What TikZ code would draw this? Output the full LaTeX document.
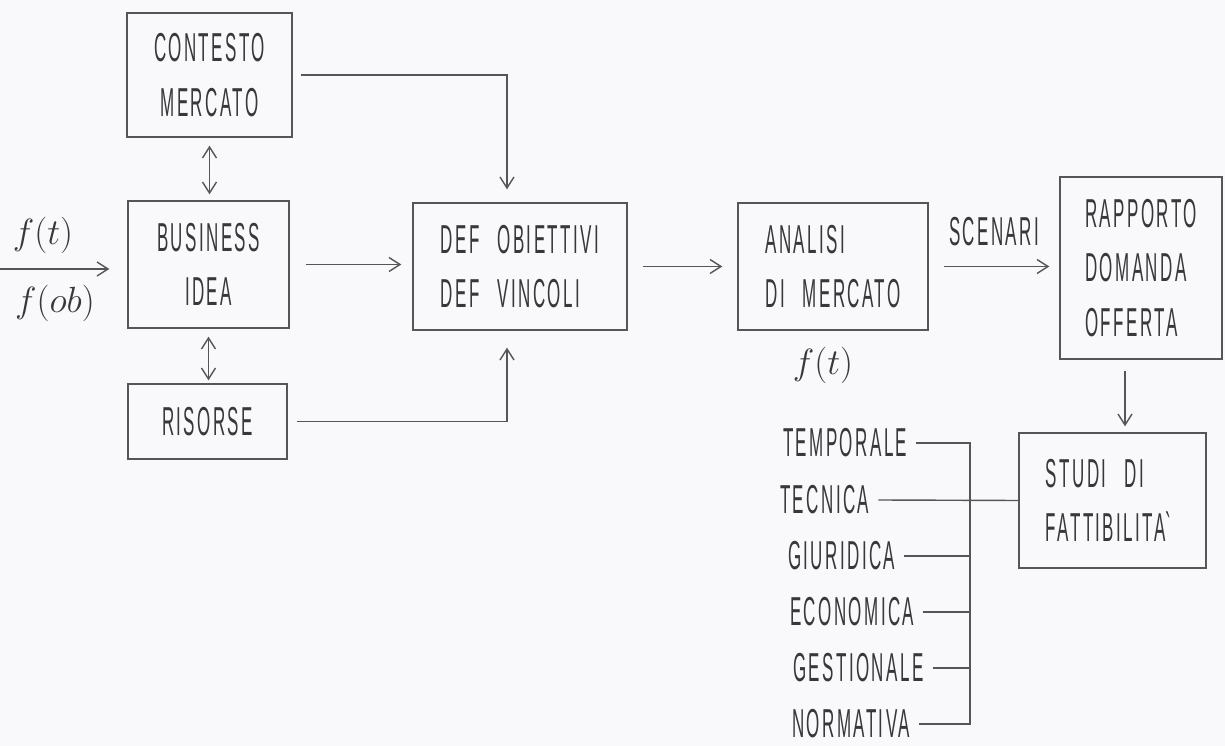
\documentclass[tikz,border=0pt]{standalone}
\usepackage{fontspec}
\setmainfont{Liberation Sans}[FakeStretch=0.42,LetterSpace=6,WordSpace=2.5]
\usetikzlibrary{arrows.meta}
\definecolor{ink}{RGB}{85,85,90}
\definecolor{inktext}{RGB}{55,55,60}
\definecolor{paper}{RGB}{249,249,251}
\begin{document}
\begin{tikzpicture}[x=0.02cm,y=-0.02cm,
	>={Straight Barb[length=0.22cm,width=0.28cm]},
	box/.style={draw=ink,line width=0.8pt,text=inktext,font=\fontsize{23}{31}\selectfont,align=center,inner sep=0pt},
	wire/.style={draw=ink,line width=0.8pt},
	lab/.style={text=inktext,font=\fontsize{23}{28}\selectfont,inner sep=0pt},
	factor/.style={lab,anchor=west,inner sep=5pt},
	fun/.style={text=inktext,font=\fontsize{20}{24}\selectfont,inner sep=0pt}]

		\fill[paper] (0,0) rectangle (1225,746);
		\useasboundingbox (0,0) rectangle (1225,746);

		\node[box,minimum width=3.30cm,minimum height=2.48cm] (contesto) at (209.5,75) {CONTESTO\\MERCATO};
		\node[box,minimum width=3.22cm,minimum height=2.54cm] (business) at (208.5,264.5) {BUSINESS\\IDEA};
		\node[box,minimum width=3.18cm,minimum height=1.50cm] (risorse) at (207.5,421.5) {RISORSE};
		\node[box,align=left,minimum width=4.28cm,minimum height=2.54cm] (obiettivi) at (520,266.5) {DEF OBIETTIVI\\DEF VINCOLI};
		\node[box,align=left,minimum width=3.80cm,minimum height=2.54cm] (analisi) at (833,266.5) {ANALISI\\DI MERCATO};
		\node[box,align=left,minimum width=3.24cm,minimum height=3.64cm] (rapporto) at (1141,268) {RAPPORTO\\DOMANDA\\OFFERTA};
		\node[box,align=left,minimum width=3.74cm,minimum height=2.70cm] (studi) at (1112.5,500.5) {STUDI DI\\FATTIBILITA\textasciigrave};

		\coordinate (in) at (0,269);
		\node[fun] (ft) at (43,235) {$f(t)$};
		\node[fun] (fob) at (55,303) {$f(ob)$};
		\node[fun] (ftm) at (823,365) {$f(t)$};

		\draw[wire,->,shorten >=0.36cm] (in) -- (in -| business.west);
		\draw[wire,<->,shorten <=0.16cm,shorten >=0.12cm] (contesto.south) -- (contesto.south |- business.north);
		\draw[wire,<->,shorten <=0.16cm,shorten >=0.06cm] (business.south) -- (business.south |- risorse.north);
		\draw[wire,->,shorten <=0.32cm,shorten >=0.22cm] (business.east) -- (business.east -| obiettivi.west);
		\draw[wire,->,shorten <=0.16cm,shorten >=0.26cm] (contesto.east) -| ([xshift=-0.26cm]obiettivi.north);
		\draw[wire,->,shorten <=0.18cm,shorten >=0.34cm] (risorse.east) -| ([xshift=-0.26cm]obiettivi.south);
		\draw[wire,->,shorten <=0.30cm,shorten >=0.30cm] (obiettivi.east) -- (obiettivi.east -| analisi.west);
		\draw[wire,->,shorten <=0.30cm,shorten >=0.20cm] (analisi.east) -- node[lab,above=0.4cm] (scenari) {SCENARI} (analisi.east -| rapporto.west);
		\draw[wire,->,shorten <=0.22cm,shorten >=0.12cm] ([xshift=-0.32cm]rapporto.south) -- ([xshift=-0.32cm]rapporto.south |- studi.north);

		\coordinate (bt) at (970,443);
		\node[factor] (temporale) at (774,443) {TEMPORALE};
		\node[factor] (tecnica) at (771,500) {TECNICA};
		\node[factor] (giuridica) at (779,556) {GIURIDICA};
		\node[factor] (economica) at (781,612) {ECONOMICA};
		\node[factor] (gestionale) at (784,668) {GESTIONALE};
		\node[factor] (normativa) at (783,724) {NORMATIVA};

		\draw[wire] (temporale.east) -- (temporale.east -| bt) -- (normativa.east -| bt) -- (normativa.east);
		\foreach \f in {giuridica,economica,gestionale}
			\draw[wire] (\f.east) -- (\f.east -| bt);
		\draw[wire] (tecnica.east) -- (studi.west);

	\end{tikzpicture}
\end{document}
